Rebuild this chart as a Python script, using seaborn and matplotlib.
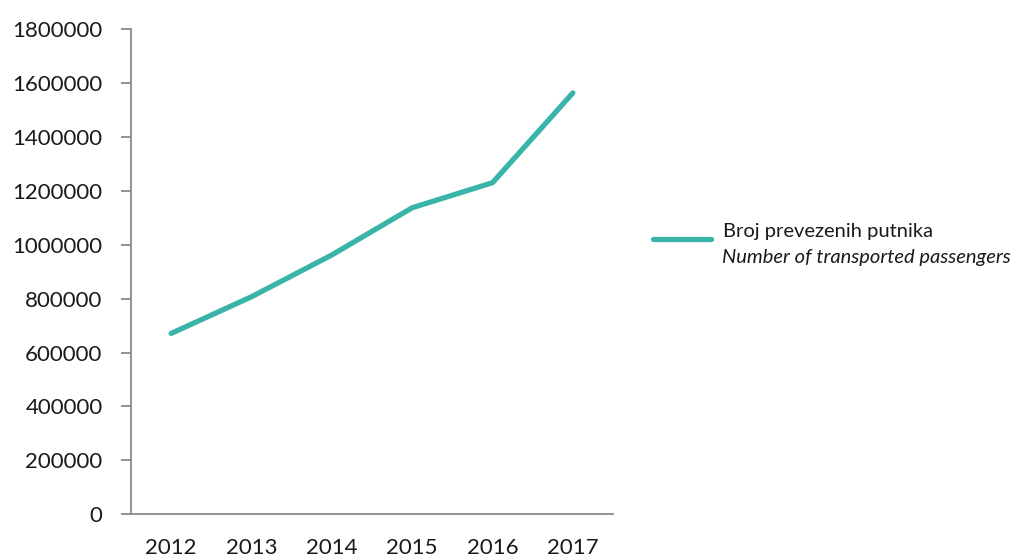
import pandas as pd
import matplotlib.pyplot as plt
import seaborn as sns

# data
years = [2012, 2013, 2014, 2015, 2016, 2017]
passengers = [671000, 807000, 962000, 1137000, 1230000, 1563000]
y_ticks = [0, 200000, 400000, 600000, 800000, 1000000, 1200000, 1400000, 1600000, 1800000]
label_hr = "Broj prevezenih putnika"
label_en = "Number of transported passengers"

df = pd.DataFrame({"year": years, "passengers": passengers})

sns.set_style("white")
plt.rcParams["font.family"] = ["Lato", "DejaVu Sans"]

teal = "#3AB3A8"
axis_grey = "#8a8a8a"

fig = plt.figure(figsize=(10.19, 5.60), dpi=100)
ax = fig.add_axes([0.1286, 0.0816, 0.473, 0.8666])

sns.lineplot(data=df, x="year", y="passengers", ax=ax, color=teal,
             linewidth=3.8, solid_capstyle="round", solid_joinstyle="round",
             label=label_hr)

ax.set_xlim(2011.5, 2017.5)
ax.set_ylim(0, 1800000)
ax.set_xticks(years)
ax.set_xticklabels([str(y) for y in years])
ax.set_yticks(y_ticks)
ax.set_yticklabels([str(v) for v in y_ticks])
ax.set_xlabel("")
ax.set_ylabel("")

for side in ["top", "right"]:
    ax.spines[side].set_visible(False)
for side in ["left", "bottom"]:
    ax.spines[side].set_color(axis_grey)
    ax.spines[side].set_linewidth(1.3)

ax.tick_params(axis="y", direction="out", length=7, width=1.3, color=axis_grey,
               labelsize=16, labelcolor="#1a1a1a", pad=13.5, left=True)
ax.tick_params(axis="x", length=0, labelsize=16, labelcolor="#1a1a1a", pad=17)

# legend: first line through the library, italic English line below it
leg = ax.legend(loc="center left", bbox_to_anchor=(0.633, 0.5875),
                bbox_transform=fig.transFigure, frameon=False,
                fontsize=14.5, handlelength=2.9, handletextpad=0.55,
                borderaxespad=0)
for line in leg.get_lines():
    line.set_linewidth(3.8)
    line.set_solid_capstyle("round")
    # the key sits a little lower than the first text line
    line.set_ydata([v - 6.5 for v in line.get_ydata()])
for t in leg.get_texts():
    t.set_color("#1a1a1a")

fig.text(0.7085, 0.541, label_en, fontsize=14.5, style="italic",
         color="#1a1a1a", va="center", ha="left")

fig.savefig("out.png", dpi=100)
